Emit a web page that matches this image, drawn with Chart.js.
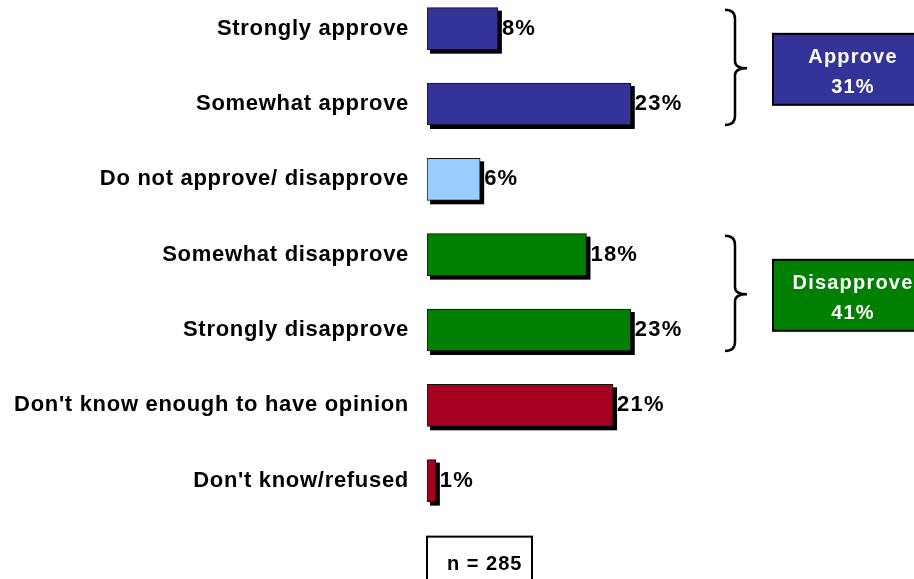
<!DOCTYPE html>
<html>
<head>
<meta charset="utf-8">
<script src="https://cdn.jsdelivr.net/npm/chart.js@4"></script>
<style>
  html, body { margin: 0; padding: 0; background: #fff; overflow: hidden; }
  #wrap { position: absolute; left: 0; top: -9px; width: 914px; height: 588px; }
</style>
</head>
<body>
<div id="wrap"><canvas id="approval-chart"></canvas></div>
<script>
// ── Data ──────────────────────────────────────────────────────────────────
const categories = [
  'Strongly approve',
  'Somewhat approve',
  'Do not approve/ disapprove',
  'Somewhat disapprove',
  'Strongly disapprove',
  "Don't know enough to have opinion",
  "Don't know/refused",
];
const percents = [8, 23, 6, 18, 23, 21, 1];

const groupNames  = ['Approve', 'Disapprove'];
const groupTotals = [31, 41];
const groupRows   = [[0, 1], [3, 4]];   // first/last category index of each bracket
const sampleSize  = 285;

// ── Styling ───────────────────────────────────────────────────────────────
const NAVY = '#333399', LIGHT = '#99CCFF', GREEN = '#008000', RED = '#A50021';
const BAR_COLORS   = [NAVY, NAVY, LIGHT, GREEN, GREEN, RED, RED];
const GROUP_COLORS = [NAVY, GREEN];
const FONT = '"Liberation Sans", Arial, Helvetica, sans-serif';

function drawBrace(ctx, top, mid, bottom) {
  const x0 = 725, xv = 735, xt = 747;
  ctx.beginPath();
  ctx.moveTo(x0, top);
  ctx.quadraticCurveTo(xv, top, xv, top + 9);
  ctx.lineTo(xv, mid - 7);
  ctx.quadraticCurveTo(xv, mid, xt, mid);
  ctx.quadraticCurveTo(xv, mid, xv, mid + 7);
  ctx.lineTo(xv, bottom - 9);
  ctx.quadraticCurveTo(xv, bottom, x0, bottom);
  ctx.stroke();
}

const decorations = {
  id: 'decorations',
  beforeDraw(chart) {
    chart.ctx.letterSpacing = '0.7px';
  },
  // black drop shadow behind every bar
  beforeDatasetsDraw(chart) {
    const ctx = chart.ctx;
    ctx.save();
    ctx.fillStyle = '#000';
    chart.getDatasetMeta(0).data.forEach(bar => {
      const p = bar.getProps(['x', 'y', 'base', 'height'], true);
      ctx.fillRect(p.base + 3, p.y - p.height / 2 + 3, p.x - p.base + 1, p.height + 1);
    });
    ctx.restore();
  },
  afterDatasetsDraw(chart) {
    const ctx = chart.ctx;
    const ys = chart.scales.y;
    ctx.save();

    // value labels
    ctx.fillStyle = '#000';
    ctx.font = `bold 22px ${FONT}`;
    ctx.letterSpacing = '1.2px';
    ctx.textAlign = 'left';
    ctx.textBaseline = 'middle';
    chart.getDatasetMeta(0).data.forEach((bar, i) => {
      const p = bar.getProps(['x', 'y'], true);
      ctx.fillText(`${percents[i]}%`, p.x + 4, p.y);
    });

    // brackets + group totals
    groupRows.forEach(([a, b], gi) => {
      const yA = ys.getPixelForValue(a), yB = ys.getPixelForValue(b);
      const mid = (yA + yB) / 2 + 2;
      ctx.strokeStyle = '#000';
      ctx.lineWidth = 2.5;
      drawBrace(ctx, yA - 19, mid, yB + 21);

      const bx = 773, bw = 160, bh = 71, by = mid - bh / 2 + 1;
      ctx.fillStyle = GROUP_COLORS[gi];
      ctx.fillRect(bx, by, bw, bh);
      ctx.lineWidth = 2;
      ctx.strokeRect(bx, by, bw, bh);

      ctx.fillStyle = '#fff';
      ctx.font = `bold 20px ${FONT}`;
      ctx.letterSpacing = '1.2px';
      ctx.textAlign = 'center';
      ctx.fillText(groupNames[gi], 853, by + 24);
      ctx.fillText(`${groupTotals[gi]}%`, 853, by + 54);
    });

    // sample size box
    const ny = ys.getPixelForValue(categories.length - 1) + 56;
    ctx.strokeStyle = '#000';
    ctx.lineWidth = 2;
    ctx.fillStyle = '#fff';
    ctx.fillRect(427, ny, 105, 60);
    ctx.strokeRect(427, ny, 105, 60);
    ctx.fillStyle = '#000';
    ctx.font = `bold 20px ${FONT}`;
    ctx.letterSpacing = '1px';
    ctx.textAlign = 'left';
    ctx.fillText(`n = ${sampleSize}`, 447, ny + 28);

    ctx.restore();
  }
};

new Chart(document.getElementById('approval-chart'), {
  type: 'bar',
  data: {
    labels: categories,
    datasets: [{
      data: percents,
      backgroundColor: BAR_COLORS,
      borderColor: '#111',
      borderWidth: 1,
      borderSkipped: false,
      barThickness: 42,
    }],
  },
  options: {
    indexAxis: 'y',
    responsive: true,
    maintainAspectRatio: false,
    animation: false,
    layout: { autoPadding: false, padding: { left: 0, top: 0, right: 44, bottom: 60.7 } },
    plugins: {
      legend: { display: false },
      tooltip: { enabled: false },
    },
    scales: {
      x: { min: 0, max: 50, display: false },
      y: {
        grid: { display: false, drawTicks: false },
        border: { display: false },
        afterFit: scale => {
          scale.width = 427;
          scale.paddingTop = 0;
          scale.paddingBottom = 0;
        },
        ticks: {
          padding: 18,
          color: '#000',
          font: { family: FONT, size: 22, weight: 'bold' },
        },
      },
    },
  },
  plugins: [decorations],
});
</script>
</body>
</html>
